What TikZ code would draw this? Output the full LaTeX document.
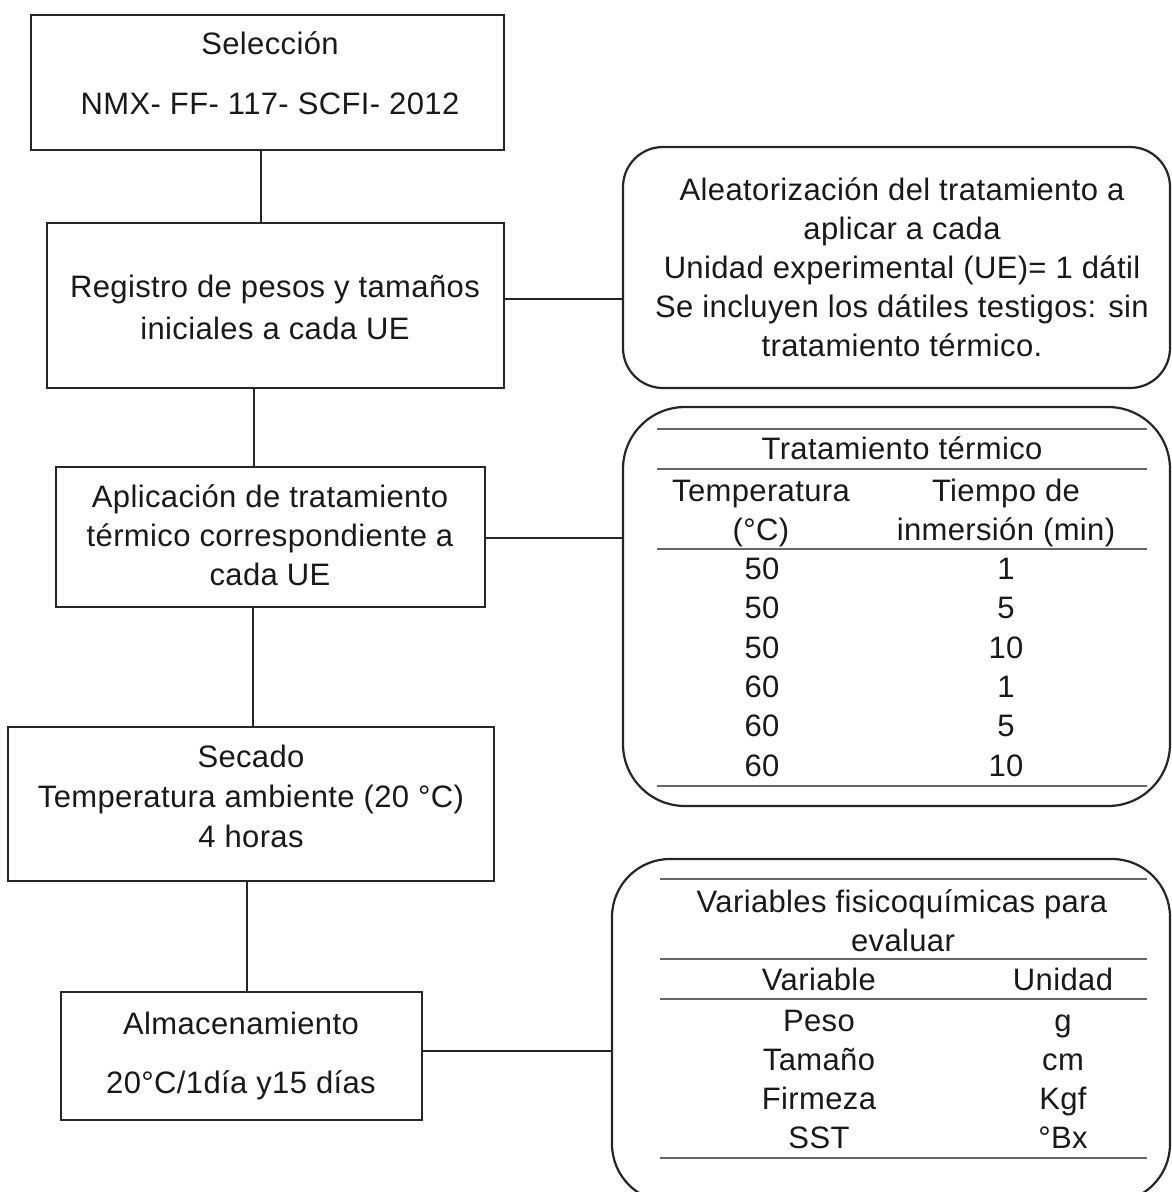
\documentclass[tikz,border=0pt]{standalone}
\usepackage{fontspec}
\setmainfont[LetterSpace=1.2]{Liberation Sans}
\begin{document}
\begin{tikzpicture}[x=1pt,y=-1pt,
  every node/.style={font=\fontsize{31}{39}\selectfont, text=black!90},
  box/.style={draw=black!85, line width=2.4pt, inner sep=0pt},
  rbox/.style={draw=black!85, line width=2.2pt, inner sep=0pt},
  txt/.style={align=center, inner sep=0pt},
  cell/.style={anchor=base, inner sep=0pt},
  conn/.style={draw=black!85, line width=2.2pt},
  rule/.style={draw=black!60, line width=1.6pt}]
\useasboundingbox (0,0) rectangle (1172,1192);

% left boxes
\node[box, minimum width=473pt, minimum height=135pt] (b1) at (267.5,82.5) {};
\node[box, minimum width=457pt, minimum height=165pt] (b2) at (275.5,305.5) {};
\node[box, minimum width=429pt, minimum height=140pt] (b3) at (270.5,537) {};
\node[box, minimum width=486pt, minimum height=154pt] (b4) at (251,804) {};
\node[box, minimum width=361pt, minimum height=128pt] (b5) at (241.5,1056) {};

% right rounded boxes
\node[rbox, rounded corners=40pt, minimum width=547pt, minimum height=241pt] (r1) at (896.5,267.5) {};
\node[rbox, rounded corners=62pt, minimum width=547pt, minimum height=399pt] (r2) at (896.5,606.5) {};
\node[rbox, rounded corners=58pt, minimum width=558pt, minimum height=343pt] (r3) at (891,1030.5) {};

% texts of left boxes
\node[txt] (t1) at (270,77) {\strut Selección\\[21pt]\strut NMX- FF- 117- SCFI- 2012};
\node[txt] (t2) at (275,311) {\strut Registro de pesos y tamaños\\[3pt]\strut iniciales a cada UE};
\node[txt] (t3) at (270,539) {\strut Aplicación de tratamiento\\\strut térmico correspondiente a\\\strut cada UE};
\node[txt] (t4) at (251,800) {\strut Secado\\[1pt]\strut Temperatura ambiente (20 °C)\\[1pt]\strut 4 horas};
\node[txt] (t5) at (241,1056) {\strut Almacenamiento\\[20pt]\strut 20°C/1día y15 días};

% text of r1
\node[txt] (t6) at (902,271) {\strut Aleatorización del tratamiento a\\\strut aplicar a cada\\\strut Unidad experimental (UE)= 1 dátil\\\strut Se incluyen los dátiles testigos: sin\\\strut tratamiento térmico.};

% connectors
\coordinate (xa) at (261,0);
\coordinate (xb) at (254,0);
\coordinate (xc) at (253,0);
\coordinate (xd) at (247,0);
\coordinate (ya) at (0,299);
\coordinate (yb) at (0,538);
\coordinate (yc) at (0,1051);
\draw[conn] (b1.south -| xa) -- (b2.north -| xa);
\draw[conn] (b2.south -| xb) -- (b3.north -| xb);
\draw[conn] (b3.south -| xc) -- (b4.north -| xc);
\draw[conn] (b4.south -| xd) -- (b5.north -| xd);
\draw[conn] (b2.east |- ya) -- (r1.west |- ya);
\draw[conn] (b3.east |- yb) -- (r2.west |- yb);
\draw[conn] (b5.east |- yc) -- (r3.west |- yc);

% table in r2
\draw[rule] (657,429) -- (1147,429);
\draw[rule] (657,469) -- (1147,469);
\draw[rule] (657,549) -- (1147,549);
\draw[rule] (657,786) -- (1147,786);
\node[cell] (a0) at (902,459) {Tratamiento térmico};
\node[cell] (a1) at (761,501) {Temperatura};
\node[cell] (a2) at (1006,501) {Tiempo de};
\node[cell] (a3) at (761,540) {(°C)};
\node[cell] (a4) at (1006,540) {inmersión (min)};
\node[cell] (a5) at (762,579) {50};
\node[cell] (a6) at (1006,579) {1};
\node[cell] (a7) at (762,618) {50};
\node[cell] (a8) at (1006,618) {5};
\node[cell] (a9) at (762,658) {50};
\node[cell] (a10) at (1006,658) {10};
\node[cell] (a11) at (762,697) {60};
\node[cell] (a12) at (1006,697) {1};
\node[cell] (a13) at (762,736) {60};
\node[cell] (a14) at (1006,736) {5};
\node[cell] (a15) at (762,776) {60};
\node[cell] (a16) at (1006,776) {10};

% table in r3
\draw[rule] (660,879) -- (1147,879);
\draw[rule] (660,959) -- (1147,959);
\draw[rule] (660,999) -- (1147,999);
\draw[rule] (660,1158) -- (1147,1158);
\node[cell] (v0) at (902,912) {Variables fisicoquímicas para};
\node[cell] (v1) at (903,951) {evaluar};
\node[cell] (v2) at (819,990) {Variable};
\node[cell] (v3) at (1063,990) {Unidad};
\node[cell] (v4) at (819,1031) {Peso};
\node[cell] (v5) at (1063,1031) {g};
\node[cell] (v6) at (819,1070) {Tamaño};
\node[cell] (v7) at (1063,1070) {cm};
\node[cell] (v8) at (819,1109) {Firmeza};
\node[cell] (v9) at (1063,1109) {Kgf};
\node[cell] (v10) at (819,1148) {SST};
\node[cell] (v11) at (1063,1148) {°Bx};
\end{tikzpicture}
\end{document}
